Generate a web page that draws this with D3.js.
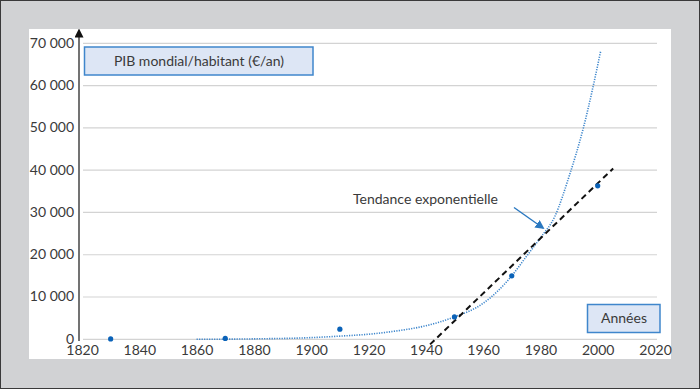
<!DOCTYPE html>
<html><head><meta charset="utf-8">
<script src="https://cdn.jsdelivr.net/npm/d3@7/dist/d3.min.js"></script>
<style>
html,body{margin:0;padding:0;background:#d1d2d4;}
svg{display:block;font-family:Lato,"Open Sans",sans-serif;}
</style></head><body>
<svg id="c" width="700" height="389"></svg>
<script>
const pointYears = [1830, 1870, 1910, 1950, 1970, 2000];
const pointValues = [100, 200, 2400, 5300, 15000, 36300];
const trendYears = [1860, 1880, 1900, 1910, 1920, 1930, 1940, 1950, 1960, 1970, 1975, 1980, 1985, 1990, 1995, 2001];
const trendValues = [0, 100, 400, 750, 1200, 2000, 3200, 5300, 8500, 15000, 19500, 24000, 29000, 38500, 50000, 68000];
const linearYears = [1941.5, 2005.4];
const linearValues = [-1200, 40400];
const yTicks = [0, 10000, 20000, 30000, 40000, 50000, 60000, 70000];
const xTicks = [1820, 1840, 1860, 1880, 1900, 1920, 1940, 1960, 1980, 2000, 2020];
const yTitle = "PIB mondial/habitant (€/an)";
const xTitle = "Années";
const annotation = "Tendance exponentielle";

const svg = d3.select("#c");
const txtColor = "#3a3a3a";
// outer frame
svg.append("rect").attr("x",0.5).attr("y",0.5).attr("width",699).attr("height",388)
  .attr("fill","#d1d2d4").attr("stroke","#3a3a3a").attr("stroke-width",1);
svg.append("rect").attr("x",29).attr("y",29).attr("width",642).attr("height",330).attr("fill","#fff");

const x = d3.scaleLinear().domain([1820, 2020]).range([82, 655]);
const y = d3.scaleLinear().domain([0, 70000]).range([339.3, 43.3]);

// gridlines
svg.append("g").selectAll("line").data(yTicks).join("line")
  .attr("x1",83).attr("x2",657).attr("y1",d=>y(d)).attr("y2",d=>y(d))
  .attr("stroke","#d3d3d3").attr("stroke-width",1.2);

// y axis labels
const yAxis = d3.axisLeft(y).tickValues(yTicks).tickSize(0).tickPadding(0)
  .tickFormat(d => d3.format(",")(d).replace(/,/g, " "));
const gy = svg.append("g").attr("transform","translate(74,-0.5)").call(yAxis);
gy.select(".domain").remove();
gy.selectAll("text").attr("font-size",14).attr("fill",txtColor).attr("font-family","Lato, sans-serif");

// x axis labels
const xAxis = d3.axisBottom(x).tickValues(xTicks).tickSize(0).tickPadding(0).tickFormat(d3.format("d"));
const gx = svg.append("g").attr("transform","translate(0,345.5)").call(xAxis);
gx.select(".domain").remove();
gx.selectAll("text").attr("font-size",14).attr("fill",txtColor).attr("font-family","Lato, sans-serif");

// y axis line with arrow
svg.append("defs").html(
  '<marker id="ah" viewBox="0 0 10 10" refX="5" refY="5" markerWidth="6" markerHeight="6" orient="auto-start-reverse"><path d="M0,0L10,5L0,10z" fill="#111"/></marker>'+
  '<marker id="ab" viewBox="0 0 10 10" refX="8" refY="5" markerWidth="6.5" markerHeight="6.5" orient="auto"><path d="M0,0L10,5L0,10z" fill="#2a78c0"/></marker>');
svg.append("line").attr("x1",79).attr("x2",79).attr("y1",341).attr("y2",33)
  .attr("stroke","#444").attr("stroke-width",1.5).attr("marker-end","url(#ah)");

// exponential dotted trend
const trend = trendYears.map((t,i)=>[t,trendValues[i]]);
svg.append("path").datum(trend)
  .attr("d", d3.line().x(d=>x(d[0])).y(d=>y(d[1])).curve(d3.curveMonotoneX))
  .attr("fill","none").attr("stroke","#3d86cc").attr("stroke-width",1.6).attr("stroke-dasharray","1.2,1.3");

// linear dashed
const lin = linearYears.map((t,i)=>[t,linearValues[i]]);
svg.append("path").datum(lin)
  .attr("d", d3.line().x(d=>x(d[0])).y(d=>y(d[1])))
  .attr("fill","none").attr("stroke","#111").attr("stroke-width",2).attr("stroke-dasharray","6,4");

// points
svg.append("g").selectAll("circle").data(pointYears.map((t,i)=>[t,pointValues[i]])).join("circle")
  .attr("cx",d=>x(d[0])).attr("cy",d=>y(d[1])).attr("r",2.6).attr("fill","#0a62b8");

// annotation
svg.append("text").attr("x",353).attr("y",203.5).text(annotation)
  .attr("font-size",14).attr("fill",txtColor);
svg.append("line").attr("x1",514).attr("y1",207.5).attr("x2",543).attr("y2",228)
  .attr("stroke","#2a78c0").attr("stroke-width",1.4).attr("marker-end","url(#ab)");

// boxes
function box(x0,y0,w,h,txt,cx,by){
  svg.append("rect").attr("x",x0).attr("y",y0).attr("width",w).attr("height",h)
    .attr("fill","#dde6f5").attr("stroke","#3f86cc").attr("stroke-width",1.5);
  svg.append("text").attr("x",cx).attr("y",by).attr("text-anchor","middle").text(txt)
    .attr("font-size",14).attr("fill",txtColor);
}
box(84.5,47,228.5,28,yTitle,199,66);
box(587.5,304.5,72.5,28,xTitle,624,323);
</script>
</body></html>
